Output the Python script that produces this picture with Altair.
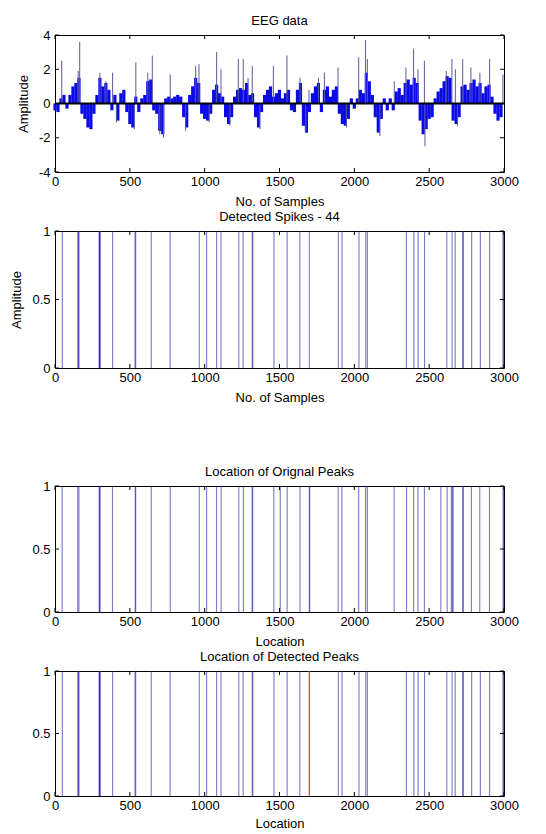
import altair as alt
import pandas as pd

# ---------------- data ----------------
# Panel 1: EEG signal, envelope sampled every 20 samples
eeg_sample = list(range(0, 3000, 20))
eeg_amp = [
    -0.4, -0.5, 0.3, 0.5, -0.3, 0.5, 1.0, 1.2, 1.5, -0.6,
    -0.9, -1.4, -1.5, -0.6, 0.5, 1.5, 1.0, 1.2, 0.8, -0.4,
    0.5, -1.0, 0.6, 0.8, -0.5, -1.2, -1.4, 0.4, -0.5, 0.3,
    0.5, 1.3, 1.4, -0.4, -0.6, -1.6, -1.8, 0.3, 0.4, 0.3,
    0.4, 0.5, 0.4, -0.8, -1.4, 0.5, 1.0, 1.5, 1.2, -0.6,
    -0.9, -1.0, -0.6, 0.8, 1.1, 0.6, 0.4, -0.8, -1.2, -0.8,
    0.4, 0.8, 0.9, 0.8, 1.2, 0.5, 0.6, -0.8, -1.4, -0.5,
    0.5, 0.8, 1.0, 0.4, 0.6, 0.8, 0.3, 0.6, 0.8, -0.4,
    -0.5, 0.8, 1.2, -1.3, -1.7, -0.5, 0.6, 1.0, 1.2, -0.5,
    0.8, 1.0, 0.4, 0.8, 1.0, -0.6, -1.2, -1.3, -0.9, 0.3,
    -0.3, 0.3, 0.8, 0.6, 1.8, 1.3, 0.5, -0.8, -1.7, -0.9,
    0.3, -0.4, 0.3, -0.4, 0.7, 0.9, 0.5, 1.2, 1.4, 1.1,
    1.5, 1.2, -1.0, -1.8, -1.5, -0.9, -0.8, 0.3, 0.7, 0.9,
    1.3, 1.6, 1.5, -1.0, -1.2, -0.8, 1.0, 1.1, 0.8, 1.2,
    1.4, 1.0, 1.2, 0.6, 1.0, 1.1, 0.4, -0.6, -1.0, -0.8,
]
# single-sample spikes that stick out of the envelope
spike_x = [45, 155, 165, 300, 340, 385, 410, 530, 540, 620,
           650, 700, 725, 770, 873, 940, 962, 1030, 1080, 1109,
           1169, 1225, 1258, 1290, 1318, 1369, 1459, 1550, 1637, 1675,
           1697, 1760, 1800, 1891, 1948, 2029, 2075, 2087, 2171, 2267,
           2345, 2396, 2425, 2468, 2472, 2614, 2652, 2675, 2690, 2724,
           2779, 2839, 2904, 2993]
spike_amp = [2.5, 1.9, 3.6, 1.8, 1.3, 1.8, -1.1, -1.5, 2.4, 1.8,
             2.8, -1.8, -2.0, 1.7, -1.6, 2.2, 2.3, -1.1, 3.0, 2.0,
             -1.3, 2.6, 2.6, 1.5, 2.2, -1.5, 2.2, 2.8, 1.5, -1.7,
             0.8, 1.5, 1.8, 2.1, -1.4, 2.7, 3.7, 2.6, -1.9, 1.3,
             2.1, 3.2, 2.0, 2.5, -2.5, 1.9, 2.6, 2.0, -1.3, 2.6,
             2.1, 1.8, 2.6, 1.7]

# Panel 2 / 4: detected spike locations (44)
detected_loc = [49, 152, 157, 160, 295, 297, 299, 302, 385, 535,
                539, 643, 769, 964, 1013, 1080, 1109, 1228, 1257, 1318,
                1322, 1463, 1551, 1636, 1699, 1893, 1918, 2031, 2076, 2087,
                2348, 2398, 2426, 2469, 2618, 2653, 2674, 2724, 2728, 2784,
                2842, 2904, 2993, 2997]
# Panel 3: original peak locations
original_loc = [48, 152, 160, 295, 298, 301, 384, 536, 539, 643,
                770, 964, 1013, 1079, 1110, 1228, 1259, 1317, 1321, 1462,
                1505, 1551, 1637, 1699, 1702, 1892, 1917, 2029, 2075, 2087,
                2266, 2349, 2396, 2425, 2468, 2578, 2620, 2648, 2655, 2660,
                2724, 2728, 2782, 2838, 2903, 2994, 2998]
# Panel 4: highlighted (red) peak
red_loc = [1699]
spike_height = 1.0

x_ticks = [0, 500, 1000, 1500, 2000, 2500, 3000]
eeg_y_ticks = [-4, -2, 0, 2, 4]
unit_y_ticks = [0, 0.5, 1]

W = 449
FONT = "Liberation Sans"
LINE_COLOR = "#2020a8"

xscale = alt.Scale(domain=[0, 3000], nice=False, zero=False)


def x_axis(title, title_pad=7):
    return alt.Axis(values=x_ticks, title=title, labelFlush=False, labelOverlap=False,
                    labelPadding=3, titlePadding=title_pad, ticks=False, domain=False,
                    labelExpr="'' + datum.value")


def y_axis(values, title):
    return alt.Axis(values=values, title=title, labelFlush=False, labelOverlap=False,
                    labelPadding=5, ticks=False, domain=False, titlePadding=8,
                    labelExpr="'' + datum.value")


def tick_layers(y_ticks, h, xa, ya, yscale):
    xt = pd.DataFrame({"t": x_ticks})
    yt = pd.DataFrame({"t": y_ticks})
    top = alt.Chart(xt).mark_rule(color="black").encode(
        x=alt.X("t:Q", scale=xscale, axis=xa), y=alt.value(0), y2=alt.value(4))
    bot = alt.Chart(xt).mark_rule(color="black").encode(
        x=alt.X("t:Q", scale=xscale, axis=xa), y=alt.value(h), y2=alt.value(h - 4))
    left = alt.Chart(yt).mark_rule(color="black").encode(
        y=alt.Y("t:Q", scale=yscale, axis=ya), x=alt.value(0), x2=alt.value(4))
    right = alt.Chart(yt).mark_rule(color="black").encode(
        y=alt.Y("t:Q", scale=yscale, axis=ya), x=alt.value(W - 4), x2=alt.value(W))
    return [top, bot, left, right]


# ---------------- panel 1: EEG data ----------------
eeg_df = pd.DataFrame({"sample": eeg_sample, "amp": eeg_amp})
spk_df = pd.DataFrame({"sample": spike_x, "amp": spike_amp})
yscale1 = alt.Scale(domain=[-4, 4], nice=False)
H1 = 137
xa1 = x_axis("No. of Samples")
ya1 = y_axis(eeg_y_ticks, "Amplitude")

env = alt.Chart(eeg_df).mark_rule(color="#0a0ae6", strokeWidth=3.2).encode(
    x=alt.X("sample:Q", scale=xscale, axis=xa1),
    y=alt.Y("amp:Q", scale=yscale1, axis=ya1),
    y2=alt.datum(0),
)
spk = alt.Chart(spk_df).mark_rule(color="#5a5a9e", strokeWidth=1).encode(
    x=alt.X("sample:Q", scale=xscale, axis=xa1),
    y=alt.Y("amp:Q", scale=yscale1, axis=ya1),
    y2=alt.datum(0),
)
zero_df = pd.DataFrame({"z": [0]})
zero = alt.Chart(zero_df).mark_rule(color="black", strokeWidth=2).encode(
    y=alt.Y("z:Q", scale=yscale1, axis=ya1)
)
p1 = alt.layer(env, spk, zero, *tick_layers(eeg_y_ticks, H1, xa1, ya1, yscale1)).properties(
    width=W, height=H1, title="EEG data")


# ---------------- spike panels ----------------
def spike_panel(locs, title, xtitle, ytitle, h, red=None, title_pad=7):
    ys = alt.Scale(domain=[0, 1], nice=False)
    xa = x_axis(xtitle, title_pad)
    ya = y_axis(unit_y_ticks, ytitle)
    blue_locs = [l for l in locs if red is None or l not in red]
    df = pd.DataFrame({"loc": blue_locs, "amp": [spike_height] * len(blue_locs)})
    lines = alt.Chart(df).mark_rule(color=LINE_COLOR, opacity=0.6, strokeWidth=1.1).encode(
        x=alt.X("loc:Q", scale=xscale, axis=xa),
        y=alt.Y("amp:Q", scale=ys, axis=ya),
        y2=alt.datum(0),
    )
    layers = [lines]
    if red is not None:
        rdf = pd.DataFrame({"loc": red, "amp": [spike_height] * len(red)})
        layers.append(alt.Chart(rdf).mark_rule(color="#f0302a", strokeWidth=1.2).encode(
            x=alt.X("loc:Q", scale=xscale, axis=xa),
            y=alt.Y("amp:Q", scale=ys, axis=ya),
            y2=alt.datum(0),
        ))
    layers += tick_layers(unit_y_ticks, h, xa, ya, ys)
    return alt.layer(*layers).properties(width=W, height=h, title=title)


p2 = spike_panel(detected_loc, "Detected Spikes - 44", "No. of Samples", "Amplitude", 137)
p3 = spike_panel(original_loc, "Location of Orignal Peaks", "Location", "", 126)
p4 = spike_panel(detected_loc, "Location of Detected Peaks", "Location", "", 125,
                 red=red_loc, title_pad=5)

top_group = alt.vconcat(p1, p2, spacing=1)
bottom_group = alt.vconcat(p3, p4, spacing=1)

chart = alt.vconcat(top_group, bottom_group, spacing=60).properties(
    padding={"left": 2, "top": 6, "right": 0, "bottom": 0}
).configure_view(
    stroke="black", strokeWidth=1
).configure_axis(
    grid=False,
    labelFont=FONT, labelFontSize=13, labelColor="black",
    titleFont=FONT, titleFontSize=13, titleFontWeight="normal", titleColor="black",
).configure_title(
    font=FONT, fontSize=13, fontWeight="normal", color="black", offset=1
)

chart.save("out.html", embed_options={"renderer": "svg", "actions": False})
